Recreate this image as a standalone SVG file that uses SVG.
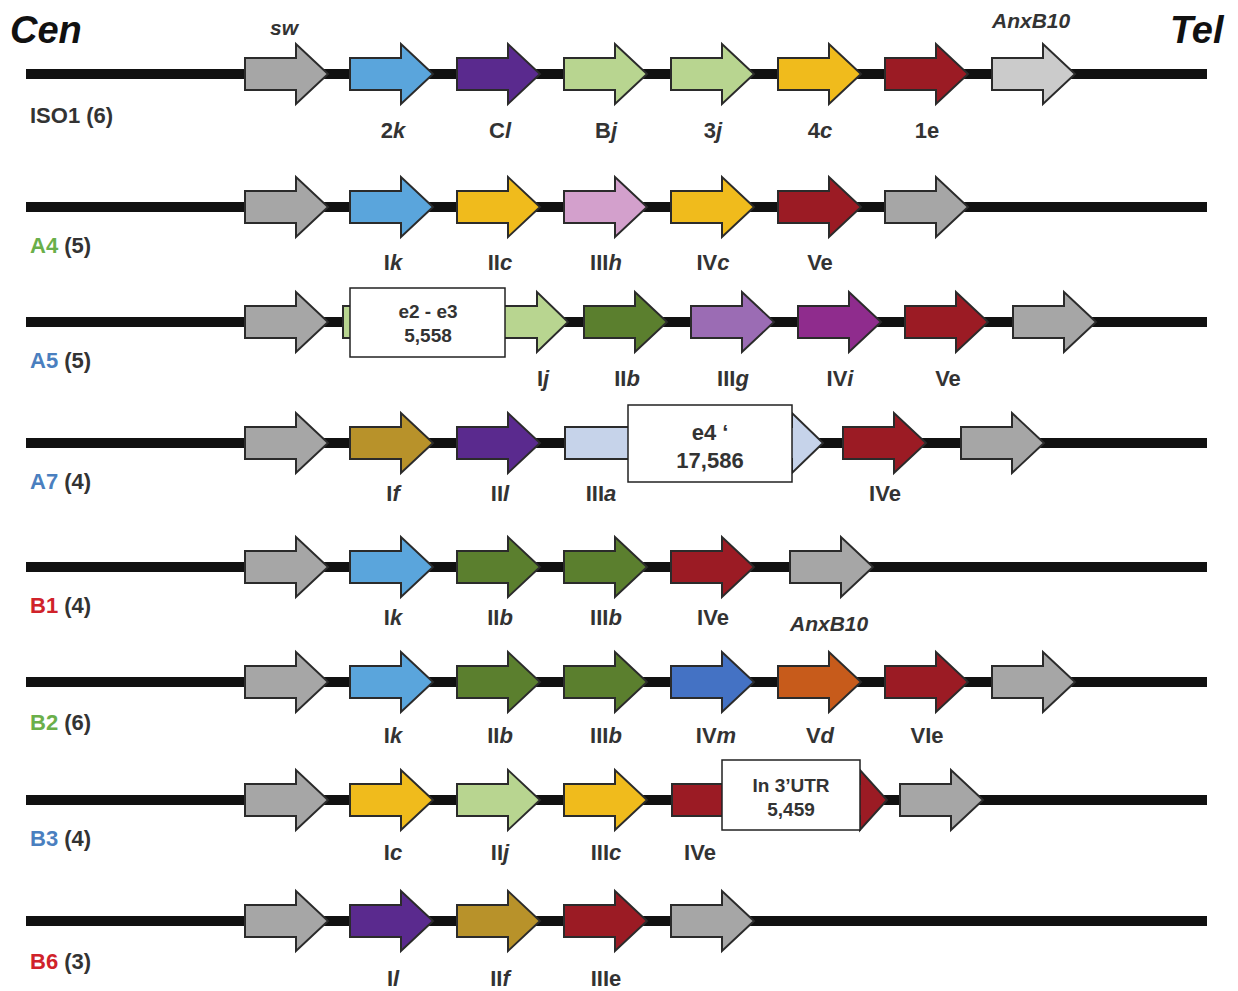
<svg xmlns="http://www.w3.org/2000/svg" xmlns:xlink="http://www.w3.org/1999/xlink" width="1238" height="991" viewBox="0 0 1238 991">
<style>
.ln{stroke:#111;stroke-width:10;fill:none}
.a{stroke:#2b2b2b;stroke-width:2;stroke-linejoin:miter}
.t{font-family:"Liberation Sans",Arial,sans-serif;font-weight:bold;font-size:22px;fill:#333;text-anchor:middle}
.r{font-family:"Liberation Sans",Arial,sans-serif;font-weight:bold;font-size:22px;fill:#333}
.big{font-family:"Liberation Sans",Arial,sans-serif;font-weight:bold;font-style:italic;font-size:38px;fill:#111}
.sm{font-family:"Liberation Sans",Arial,sans-serif;font-weight:bold;font-style:italic;font-size:21px;fill:#333}
.bx{fill:#fff;stroke:#222;stroke-width:1.5}
.bt{font-family:"Liberation Sans",Arial,sans-serif;font-weight:bold;font-size:19px;fill:#333;text-anchor:middle}
.bt2{font-family:"Liberation Sans",Arial,sans-serif;font-weight:bold;font-size:22px;fill:#333;text-anchor:middle}
.gr{fill:#a6a6a6}.lg{fill:#cbcbcb}.bl{fill:#5aa5dc}.pu{fill:#5a2a8e}.lgn{fill:#b8d590}.ye{fill:#f0bb1c}
.re{fill:#9b1b24}.pk{fill:#d3a0cc}.dg{fill:#5b7f2e}.lv{fill:#9b6cb4}.mg{fill:#8f2c8d}.ol{fill:#b8922a}
.lb{fill:#c6d3ea}.db{fill:#4472c4}.or{fill:#c75b1b}
.cg{fill:#6aaf4a}.cb{fill:#4a7fbf}.cr{fill:#d0222a}
</style>
<defs>
<path id="arr" class="a" d="M0,-16 H51 V-30 L83,0 L51,30 V16 H0 Z"/>
</defs>

<g id="header">
<text class="big" x="10" y="43">Cen</text>
<text class="big" x="1170" y="43">Tel</text>
<text class="sm" x="270" y="35">sw</text>
<text class="sm" x="992" y="28">AnxB10</text>
</g>

<g id="connectors">
<line class="ln" x1="26" y1="74" x2="1207" y2="74"/>
<line class="ln" x1="26" y1="207" x2="1207" y2="207"/>
<line class="ln" x1="26" y1="322" x2="1207" y2="322"/>
<line class="ln" x1="26" y1="443" x2="1207" y2="443"/>
<line class="ln" x1="26" y1="567" x2="1207" y2="567"/>
<line class="ln" x1="26" y1="682" x2="1207" y2="682"/>
<line class="ln" x1="26" y1="800" x2="1207" y2="800"/>
<line class="ln" x1="26" y1="921" x2="1207" y2="921"/>
</g>

<g id="row-ISO1">
<text class="r" x="30" y="123">ISO1 (6)</text>
<use href="#arr" x="245" y="74" class="gr"/>
<use href="#arr" x="350" y="74" class="bl"/>
<use href="#arr" x="457" y="74" class="pu"/>
<use href="#arr" x="564" y="74" class="lgn"/>
<use href="#arr" x="671" y="74" class="lgn"/>
<use href="#arr" x="778" y="74" class="ye"/>
<use href="#arr" x="885" y="74" class="re"/>
<use href="#arr" x="992" y="74" class="lg"/>
<text class="t" x="393" y="138">2<tspan font-style="italic">k</tspan></text>
<text class="t" x="500" y="138">C<tspan font-style="italic">l</tspan></text>
<text class="t" x="606" y="138">B<tspan font-style="italic">j</tspan></text>
<text class="t" x="713" y="138">3<tspan font-style="italic">j</tspan></text>
<text class="t" x="820" y="138">4<tspan font-style="italic">c</tspan></text>
<text class="t" x="927" y="138">1e</text>
</g>

<g id="row-A4">
<text class="r" x="30" y="253"><tspan class="cg">A4</tspan> (5)</text>
<use href="#arr" x="245" y="207" class="gr"/>
<use href="#arr" x="350" y="207" class="bl"/>
<use href="#arr" x="457" y="207" class="ye"/>
<use href="#arr" x="564" y="207" class="pk"/>
<use href="#arr" x="671" y="207" class="ye"/>
<use href="#arr" x="778" y="207" class="re"/>
<use href="#arr" x="885" y="207" class="gr"/>
<text class="t" x="393" y="270">I<tspan font-style="italic">k</tspan></text>
<text class="t" x="500" y="270">II<tspan font-style="italic">c</tspan></text>
<text class="t" x="606" y="270">III<tspan font-style="italic">h</tspan></text>
<text class="t" x="713" y="270">IV<tspan font-style="italic">c</tspan></text>
<text class="t" x="820" y="270">Ve</text>
</g>

<g id="row-A5">
<text class="r" x="30" y="368"><tspan class="cb">A5</tspan> (5)</text>
<use href="#arr" x="245" y="322" class="gr"/>
<rect class="a lgn" x="343" y="306" width="12" height="32"/>
<path class="a lgn" d="M500,306 H537 V292 L568,322 L537,352 V338 H500 Z"/>
<rect class="bx" x="350" y="288" width="155" height="69"/>
<text class="bt" x="428" y="318">e2 - e3</text>
<text class="bt" x="428" y="342">5,558</text>
<use href="#arr" x="584" y="322" class="dg"/>
<use href="#arr" x="691" y="322" class="lv"/>
<use href="#arr" x="798" y="322" class="mg"/>
<use href="#arr" x="905" y="322" class="re"/>
<use href="#arr" x="1013" y="322" class="gr"/>
<text class="t" x="543" y="386">I<tspan font-style="italic">j</tspan></text>
<text class="t" x="627" y="386">II<tspan font-style="italic">b</tspan></text>
<text class="t" x="733" y="386">III<tspan font-style="italic">g</tspan></text>
<text class="t" x="840" y="386">IV<tspan font-style="italic">i</tspan></text>
<text class="t" x="948" y="386">Ve</text>
</g>

<g id="row-A7">
<text class="r" x="30" y="489"><tspan class="cb">A7</tspan> (4)</text>
<use href="#arr" x="245" y="443" class="gr"/>
<use href="#arr" x="350" y="443" class="ol"/>
<use href="#arr" x="457" y="443" class="pu"/>
<path class="a lb" d="M565,427 H792 V413 L823,443 L792,473 V459 H565 Z"/>
<rect class="bx" x="628" y="405" width="164" height="77"/>
<text class="bt2" x="710" y="440">e4 ‘</text>
<text class="bt2" x="710" y="468">17,586</text>
<use href="#arr" x="843" y="443" class="re"/>
<use href="#arr" x="961" y="443" class="gr"/>
<text class="t" x="393" y="501">I<tspan font-style="italic">f</tspan></text>
<text class="t" x="500" y="501">II<tspan font-style="italic">l</tspan></text>
<text class="t" x="601" y="501">III<tspan font-style="italic">a</tspan></text>
<text class="t" x="885" y="501">IVe</text>
</g>

<g id="row-B1">
<text class="r" x="30" y="613"><tspan class="cr">B1</tspan> (4)</text>
<use href="#arr" x="245" y="567" class="gr"/>
<use href="#arr" x="350" y="567" class="bl"/>
<use href="#arr" x="457" y="567" class="dg"/>
<use href="#arr" x="564" y="567" class="dg"/>
<use href="#arr" x="671" y="567" class="re"/>
<use href="#arr" x="790" y="567" class="gr"/>
<text class="t" x="393" y="625">I<tspan font-style="italic">k</tspan></text>
<text class="t" x="500" y="625">II<tspan font-style="italic">b</tspan></text>
<text class="t" x="606" y="625">III<tspan font-style="italic">b</tspan></text>
<text class="t" x="713" y="625">IVe</text>
<text class="sm" x="790" y="631">AnxB10</text>
</g>

<g id="row-B2">
<text class="r" x="30" y="730"><tspan class="cg">B2</tspan> (6)</text>
<use href="#arr" x="245" y="682" class="gr"/>
<use href="#arr" x="350" y="682" class="bl"/>
<use href="#arr" x="457" y="682" class="dg"/>
<use href="#arr" x="564" y="682" class="dg"/>
<use href="#arr" x="671" y="682" class="db"/>
<use href="#arr" x="778" y="682" class="or"/>
<use href="#arr" x="885" y="682" class="re"/>
<use href="#arr" x="992" y="682" class="gr"/>
<text class="t" x="393" y="743">I<tspan font-style="italic">k</tspan></text>
<text class="t" x="500" y="743">II<tspan font-style="italic">b</tspan></text>
<text class="t" x="606" y="743">III<tspan font-style="italic">b</tspan></text>
<text class="t" x="716" y="743">IV<tspan font-style="italic">m</tspan></text>
<text class="t" x="820" y="743">V<tspan font-style="italic">d</tspan></text>
<text class="t" x="927" y="743">VIe</text>
</g>

<g id="row-B3">
<text class="r" x="30" y="846"><tspan class="cb">B3</tspan> (4)</text>
<use href="#arr" x="245" y="800" class="gr"/>
<use href="#arr" x="350" y="800" class="ye"/>
<use href="#arr" x="457" y="800" class="lgn"/>
<use href="#arr" x="564" y="800" class="ye"/>
<path class="a re" d="M672,784 H860 V770 L887,800 L860,830 V816 H672 Z"/>
<rect class="bx" x="722" y="760" width="138" height="70"/>
<text class="bt" x="791" y="792">In 3’UTR</text>
<text class="bt" x="791" y="816">5,459</text>
<use href="#arr" x="900" y="800" class="gr"/>
<text class="t" x="393" y="860">I<tspan font-style="italic">c</tspan></text>
<text class="t" x="500" y="860">II<tspan font-style="italic">j</tspan></text>
<text class="t" x="606" y="860">III<tspan font-style="italic">c</tspan></text>
<text class="t" x="700" y="860">IVe</text>
</g>

<g id="row-B6">
<text class="r" x="30" y="969"><tspan class="cr">B6</tspan> (3)</text>
<use href="#arr" x="245" y="921" class="gr"/>
<use href="#arr" x="350" y="921" class="pu"/>
<use href="#arr" x="457" y="921" class="ol"/>
<use href="#arr" x="564" y="921" class="re"/>
<use href="#arr" x="671" y="921" class="gr"/>
<text class="t" x="393" y="986">I<tspan font-style="italic">l</tspan></text>
<text class="t" x="500" y="986">II<tspan font-style="italic">f</tspan></text>
<text class="t" x="606" y="986">IIIe</text>
</g>
</svg>
